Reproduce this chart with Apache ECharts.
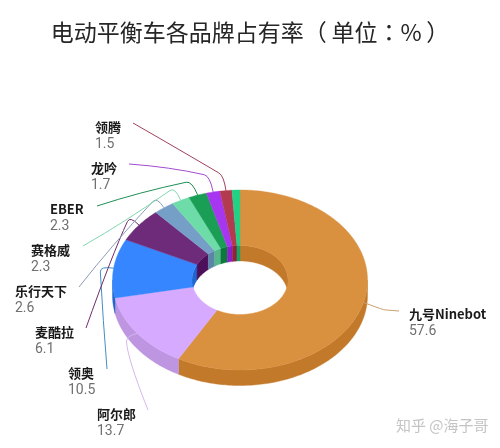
<!DOCTYPE html>
<html><head><meta charset="utf-8">
<style>html,body{margin:0;padding:0;background:#fff}#c{width:500px;height:448px}</style>
<script src="https://cdn.jsdelivr.net/npm/echarts@6/dist/echarts.min.js"></script>
</head><body><div id="c"></div>
<script>
var categories=['九号Ninebot','阿尔郎','领奥','麦酷拉','乐行天下','赛格威','EBER','龙吟','领腾',''];
var values=[57.6,13.7,10.5,6.1,2.6,2.3,2.3,1.7,1.5,1.0];
var topColors=['#D99140','#D5AAFF','#3686FF','#6E2B7A','#759FC6','#6EDCA8','#1A9E55','#A736F0','#B33B50','#22D184'];
var wallColors=['#C27A2A','#BD95E0','#1F66D0','#4E0F5A','#5C84A8','#55B88A','#0C7A3C','#8A1FCC','#8F2438','#12A866'];
var lineColors=['#C9A06A','#D5B8EC','#3F8FC4','#6E2B6A','#8A9CB8','#7FD8AE','#1F8F55','#A24CD0','#A0405A'];
// label anchors (left edge, name centre) and connector layout
var labelPos=[[409,314],[97,414],[68,373],[35,332],[15,291],[31,250],[50,209],[91,168],[95,127]];
var lineStart=[[399,311],[148,410],[107,369],[86,328],[79,287],[83,246],[97,206],[129,164],[133,123]];
var lineCurve=[[385,310],[128,360],[103,320],[112,255],[112,245],[125,222],[140,192],[170,167],[180,150]];
var lineBend=[[378,308],[126,336],[100,266],[130,216],[157,197],[175,187],[192,181],[210,176],[224,176]];

var CX=240,CY=280,RX=127.5,RY=90,IRX=48,IRY=34.5,DEPTH=15.5;
var total=values.reduce(function(a,b){return a+b;},0);
var cum=[0];values.forEach(function(v,i){cum.push(cum[i]+v);});
function pt(th,rx,ry,dy){var t=th*Math.PI/180;return [CX+rx*Math.sin(t),CY-ry*Math.cos(t)+(dy||0)];}
function arc(a,b,rx,ry,dy){var n=Math.max(2,Math.ceil(Math.abs(b-a))),p=[];for(var i=0;i<=n;i++){p.push(pt(a+(b-a)*i/n,rx,ry,dy));}return p;}
function poly(points,color,z2){return {type:'polygon',shape:{points:points},z2:z2,style:{fill:color,stroke:color,lineWidth:0.4}};}
function band(a,b,rx,ry,color,z2){return poly(arc(a,b,rx,ry,0).concat(arc(b,a,rx,ry,DEPTH)),color,z2);}
function clip(a,b,lo,hi){var s=Math.max(a,lo),e=Math.min(b,hi);return e>s?[s,e]:null;}

function renderItem(params,api){
  var i=params.dataIndex,v=api.value(0);
  var a0=cum[i]/total*360,a1=(cum[i]+v)/total*360,mid=(a0+a1)/2,ch=[],c;
  c=clip(a0,a1,0,90);if(c)ch.push(band(c[0],c[1],IRX,IRY,wallColors[i],1));
  c=clip(a0,a1,270,360);if(c)ch.push(band(c[0],c[1],IRX,IRY,wallColors[i],1));
  c=clip(a0,a1,90,270);if(c)ch.push(band(c[0],c[1],RX,RY,wallColors[i],2));
  ch.push(poly(arc(a0,a1,RX,RY,0).concat(arc(a1,a0,IRX,IRY,0)),topColors[i],3));
  if(categories[i]){
    var s=lineStart[i],q=lineCurve[i],b=lineBend[i],e=pt(mid,RX,RY,0);
    var dx=b[0]-q[0],dy=b[1]-q[1],L=Math.sqrt(dx*dx+dy*dy),k=Math.max(0,1-6/L);
    var m=[q[0]+dx*k,q[1]+dy*k];
    var ls={stroke:lineColors[i],lineWidth:1,fill:null};
    ch.push({type:'bezierCurve',shape:{x1:s[0],y1:s[1],cpx1:q[0],cpy1:q[1],x2:m[0],y2:m[1]},z2:5,style:ls});
    ch.push({type:'bezierCurve',shape:{x1:m[0],y1:m[1],cpx1:b[0],cpy1:b[1],x2:e[0],y2:e[1]},z2:5,style:ls});
    var p=labelPos[i];
    ch.push({type:'text',z2:6,style:{x:p[0],y:p[1],text:categories[i],fill:'#1a1a1a',font:'bold 13px "Noto Sans CJK SC",Roboto,sans-serif',textAlign:'left',textVerticalAlign:'middle'}});
    ch.push({type:'text',z2:6,style:{x:p[0],y:p[1]+17,text:String(v),fill:'#707070',font:'14px Roboto,"Noto Sans",sans-serif',textAlign:'left',textVerticalAlign:'middle'}});
  }
  return {type:'group',children:ch};
}

var chart=echarts.init(document.getElementById('c'),null,{renderer:'canvas'});
chart.setOption({
  animation:false,
  title:{text:'电动平衡车各品牌占有率（\u2009单位：%\u2009）',left:'center',top:16,textStyle:{color:'#262626',fontSize:23,fontWeight:'normal',fontFamily:'"Noto Sans CJK TC",sans-serif'}},
  graphic:[{type:'text',left:396,top:418,z:10,style:{text:'知乎 @海子哥',fill:'#c4c4c4',font:'15px "Noto Sans CJK SC",sans-serif'}}],
  series:[{type:'custom',coordinateSystem:'none',silent:true,renderItem:renderItem,data:values.map(function(v){return [v];}),encode:{value:0}}]
});
</script></body></html>
